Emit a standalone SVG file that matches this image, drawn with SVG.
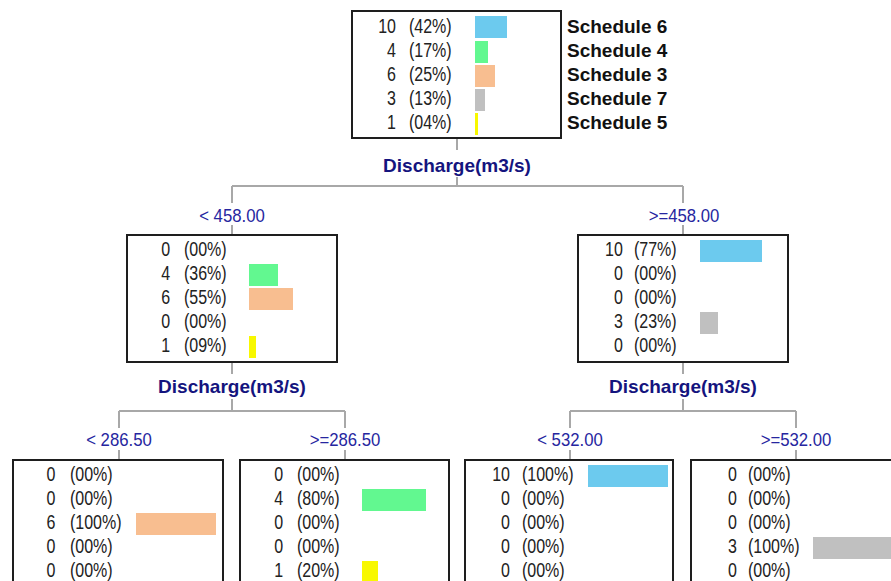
<svg xmlns="http://www.w3.org/2000/svg" width="891" height="581" viewBox="0 0 891 581">
<style>
.box{fill:#fff;stroke:#1e1e1e;stroke-width:2}
.n{font-family:"Liberation Sans",Arial,sans-serif;font-size:20px;fill:#222}
.c{text-anchor:end}
.sch{font-family:"Liberation Sans",Arial,sans-serif;font-size:19px;font-weight:bold;fill:#111}
.var{font-family:"Liberation Sans",Arial,sans-serif;font-size:19px;font-weight:bold;fill:#14147e;text-anchor:middle}
.cond{font-family:"Liberation Sans",Arial,sans-serif;font-size:18px;fill:#2626a0;text-anchor:middle}
.b6{fill:#6ccaee}.b4{fill:#62f890}.b3{fill:#f8be90}.b7{fill:#c0c0c0}.b5{fill:#f8f800}
.ln{stroke:#a8a8a8;stroke-width:2;fill:none}
</style>
<defs>
<g id="rows-none"/>
</defs>
<g id="connectors">
<path class="ln" d="M457 138V150M457 177V186M232 186H683M232 186V203M232 225V235M683 186V203M683 225V235"/>
<path class="ln" d="M232 362V374M232 399V411M119 411H345M119 411V428M119 450V460M345 411V428M345 450V460"/>
<path class="ln" d="M683 362V374M683 399V411M570 411H796M570 411V428M570 450V460M796 411V428M796 450V460"/>
<text class="var" x="457" y="172">Discharge(m3/s)</text>
<text class="cond" x="232" y="222" transform="translate(232,0) scale(0.93,1) translate(-232,0)">&lt; 458.00</text>
<text class="cond" x="684" y="222" transform="translate(684,0) scale(0.93,1) translate(-684,0)">&gt;=458.00</text>
<text class="var" x="232" y="393">Discharge(m3/s)</text>
<text class="var" x="683" y="393">Discharge(m3/s)</text>
<text class="cond" x="119" y="446" transform="translate(119,0) scale(0.93,1) translate(-119,0)">&lt; 286.50</text>
<text class="cond" x="345" y="446" transform="translate(345,0) scale(0.93,1) translate(-345,0)">&gt;=286.50</text>
<text class="cond" x="570" y="446" transform="translate(570,0) scale(0.93,1) translate(-570,0)">&lt; 532.00</text>
<text class="cond" x="796" y="446" transform="translate(796,0) scale(0.93,1) translate(-796,0)">&gt;=532.00</text>
</g>
<g id="root">
<rect class="box" x="352" y="11" width="209" height="127"/>
<g transform="translate(352,0) scale(0.8,1)">
<text class="n c" x="55" y="33">10</text><text class="n" x="71.25" y="33">(42%)</text>
<text class="n c" x="55" y="57">4</text><text class="n" x="71.25" y="57">(17%)</text>
<text class="n c" x="55" y="81">6</text><text class="n" x="71.25" y="81">(25%)</text>
<text class="n c" x="55" y="105">3</text><text class="n" x="71.25" y="105">(13%)</text>
<text class="n c" x="55" y="129">1</text><text class="n" x="71.25" y="129">(04%)</text>
</g>
<rect class="b6" x="475" y="16" width="32" height="22"/>
<rect class="b4" x="475" y="41" width="13" height="22"/>
<rect class="b3" x="475" y="65" width="20" height="22"/>
<rect class="b7" x="475" y="89" width="10" height="22"/>
<rect class="b5" x="475" y="113" width="3" height="22"/>
<text class="sch" x="567" y="33">Schedule 6</text>
<text class="sch" x="567" y="57">Schedule 4</text>
<text class="sch" x="567" y="81">Schedule 3</text>
<text class="sch" x="567" y="105">Schedule 7</text>
<text class="sch" x="567" y="129">Schedule 5</text>
</g>
<g id="node-lt458">
<rect class="box" x="127" y="235" width="210" height="127"/>
<g transform="translate(127,0) scale(0.8,1)">
<text class="n c" x="54" y="256">0</text><text class="n" x="71.25" y="256">(00%)</text>
<text class="n c" x="54" y="280">4</text><text class="n" x="71.25" y="280">(36%)</text>
<text class="n c" x="54" y="304">6</text><text class="n" x="71.25" y="304">(55%)</text>
<text class="n c" x="54" y="328">0</text><text class="n" x="71.25" y="328">(00%)</text>
<text class="n c" x="54" y="352">1</text><text class="n" x="71.25" y="352">(09%)</text>
</g>
<rect class="b4" x="249" y="264" width="29" height="22"/>
<rect class="b3" x="249" y="288" width="44" height="22"/>
<rect class="b5" x="249" y="336" width="7" height="22"/>
</g>
<g id="node-ge458">
<rect class="box" x="578" y="235" width="210" height="127"/>
<g transform="translate(578,0) scale(0.8,1)">
<text class="n c" x="56" y="256">10</text><text class="n" x="70" y="256">(77%)</text>
<text class="n c" x="56" y="280">0</text><text class="n" x="70" y="280">(00%)</text>
<text class="n c" x="56" y="304">0</text><text class="n" x="70" y="304">(00%)</text>
<text class="n c" x="56" y="328">3</text><text class="n" x="70" y="328">(23%)</text>
<text class="n c" x="56" y="352">0</text><text class="n" x="70" y="352">(00%)</text>
</g>
<rect class="b6" x="700" y="240" width="62" height="22"/>
<rect class="b7" x="700" y="312" width="18" height="22"/>
</g>
<g id="leaf-lt286">
<rect class="box" x="13" y="460" width="210" height="127"/>
<g transform="translate(13,0) scale(0.8,1)">
<text class="n c" x="53" y="481">0</text><text class="n" x="71.25" y="481">(00%)</text>
<text class="n c" x="53" y="505">0</text><text class="n" x="71.25" y="505">(00%)</text>
<text class="n c" x="53" y="529">6</text><text class="n" x="71.25" y="529">(100%)</text>
<text class="n c" x="53" y="553">0</text><text class="n" x="71.25" y="553">(00%)</text>
<text class="n c" x="53" y="577">0</text><text class="n" x="71.25" y="577">(00%)</text>
</g>
<rect class="b3" x="136" y="513" width="80" height="22"/>
</g>
<g id="leaf-ge286">
<rect class="box" x="240" y="460" width="209" height="127"/>
<g transform="translate(240,0) scale(0.8,1)">
<text class="n c" x="54" y="481">0</text><text class="n" x="71.25" y="481">(00%)</text>
<text class="n c" x="54" y="505">4</text><text class="n" x="71.25" y="505">(80%)</text>
<text class="n c" x="54" y="529">0</text><text class="n" x="71.25" y="529">(00%)</text>
<text class="n c" x="54" y="553">0</text><text class="n" x="71.25" y="553">(00%)</text>
<text class="n c" x="54" y="577">1</text><text class="n" x="71.25" y="577">(20%)</text>
</g>
<rect class="b4" x="362" y="489" width="64" height="22"/>
<rect class="b5" x="362" y="561" width="16" height="22"/>
</g>
<g id="leaf-lt532">
<rect class="box" x="465" y="460" width="208" height="127"/>
<g transform="translate(465,0) scale(0.8,1)">
<text class="n c" x="56.25" y="481">10</text><text class="n" x="71.25" y="481">(100%)</text>
<text class="n c" x="56.25" y="505">0</text><text class="n" x="71.25" y="505">(00%)</text>
<text class="n c" x="56.25" y="529">0</text><text class="n" x="71.25" y="529">(00%)</text>
<text class="n c" x="56.25" y="553">0</text><text class="n" x="71.25" y="553">(00%)</text>
<text class="n c" x="56.25" y="577">0</text><text class="n" x="71.25" y="577">(00%)</text>
</g>
<rect class="b6" x="588" y="465" width="80" height="22"/>
</g>
<g id="leaf-ge532">
<rect class="box" x="691" y="460" width="210" height="127"/>
<g transform="translate(691,0) scale(0.8,1)">
<text class="n c" x="57.5" y="481">0</text><text class="n" x="71.25" y="481">(00%)</text>
<text class="n c" x="57.5" y="505">0</text><text class="n" x="71.25" y="505">(00%)</text>
<text class="n c" x="57.5" y="529">0</text><text class="n" x="71.25" y="529">(00%)</text>
<text class="n c" x="57.5" y="553">3</text><text class="n" x="71.25" y="553">(100%)</text>
<text class="n c" x="57.5" y="577">0</text><text class="n" x="71.25" y="577">(00%)</text>
</g>
<rect class="b7" x="813" y="537" width="80" height="22"/>
</g>
</svg>
